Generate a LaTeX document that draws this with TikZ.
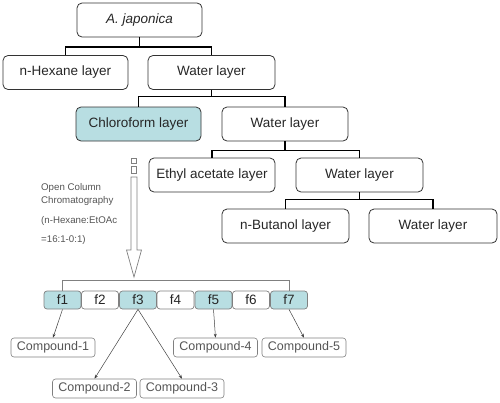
\documentclass[tikz,border=0pt]{standalone}
\usepackage{fontspec}
\setmainfont{Liberation Sans}
\usetikzlibrary{arrows.meta,calc}
\definecolor{cyanfill}{HTML}{B8DEE2}
\definecolor{boxline}{HTML}{333333}
\definecolor{greyline}{HTML}{808080}
\definecolor{greytext}{HTML}{555555}
\tikzset{
  layerbox/.style={draw=boxline, line width=0.8pt, rounded corners=5pt, minimum height=34pt, inner sep=0pt, text=black!85, font=\fontsize{13.5}{15}\selectfont},
  fracbox/.style={draw=greyline, line width=0.7pt, rounded corners=3pt, minimum width=37pt, minimum height=18pt, inner sep=0pt, text=black!85, font=\fontsize{13.5}{15}\selectfont},
  compbox/.style={draw=greyline, line width=0.6pt, rounded corners=3pt, minimum width=84pt, minimum height=19pt, inner sep=0pt, text=greytext, font=\fontsize{12.5}{14}\selectfont},
  tree/.style={line width=1.6pt, black},
  thinline/.style={line width=0.6pt, greyline},
  arr/.style={line width=0.5pt, black!75, -{Stealth[length=4pt,width=3pt]}},
  sidetext/.style={text=greytext, font=\fontsize{9.7}{11}\selectfont, anchor=west, inner sep=0pt},
}
\begin{document}
\begin{tikzpicture}[x=1pt,y=-1pt]
\useasboundingbox (0,0) rectangle (500,402);
% layer boxes
\node[layerbox, minimum width=125pt] (aj) at (139.5,20) {\itshape A. japonica};
\node[layerbox, minimum width=125pt] (hex) at (65.5,72.5) {n-Hexane layer};
\node[layerbox, minimum width=127pt] (w1) at (211.5,72.5) {Water layer};
\node[layerbox, minimum width=125pt, fill=cyanfill] (chl) at (138.5,124) {Chloroform layer};
\node[layerbox, minimum width=126pt] (w2) at (285,124) {Water layer};
\node[layerbox, minimum width=126pt] (eth) at (212,175) {Ethyl acetate layer};
\node[layerbox, minimum width=127pt] (w3) at (359.5,175) {Water layer};
\node[layerbox, minimum width=127pt] (but) at (285.5,226) {n-Butanol layer};
\node[layerbox, minimum width=128pt] (w4) at (433,226) {Water layer};
% tree connectors
\draw[tree] (aj.south) -- ++(0,10);
\draw[tree] (hex.north) -- ++(0,-8) -| (w1.north);
\draw[tree] (w1.south) -- ++(0,7);
\draw[tree] (chl.north) -- ++(0,-10) -| (w2.north);
\draw[tree] (w2.south) -- ++(0,10);
\draw[tree] (eth.north) -- ++(0,-7) -| (w3.north);
\draw[tree] (w3.south) -- ++(0,8);
\draw[tree] (but.north) -- ++(0,-9) -| (w4.north);
% side text
\node[sidetext] (t1) at (41,188) {Open Column};
\node[sidetext] (t2) at (41,201) {Chromatography};
\node[sidetext] (t3) at (41,221) {(n-Hexane:EtOAc};
\node[sidetext] (t4) at (41,240) {=16:1-0:1)};
% hollow arrow
\draw[greyline, line width=0.7pt, fill=white] (131,158) rectangle (136.5,163);
\draw[greyline, line width=0.7pt, fill=white] (131,166) rectangle (136.5,173);
\draw[greyline, line width=0.7pt, fill=white, line join=miter]
  (131,177) -- (137,177) -- (137,250) -- (141.5,250) -- (134,277) -- (126.5,250) -- (131,250) -- cycle;
% fractions
\node[fracbox, fill=cyanfill] (f1) at (62.5,300) {f1};
\node[fracbox] (f2) at (100,300) {f2};
\node[fracbox, fill=cyanfill] (f3) at (138,300) {f3};
\node[fracbox] (f4) at (175.5,300) {f4};
\node[fracbox, fill=cyanfill] (f5) at (213.5,300) {f5};
\node[fracbox] (f6) at (251,300) {f6};
\node[fracbox, fill=cyanfill] (f7) at (289,300) {f7};
\draw[thinline] (f1.north) -- ++(0,-10) -| (f7.north);
% compounds
\node[compbox] (c1) at (53,347.5) {Compound-1};
\node[compbox] (c2) at (94.5,388.5) {Compound-2};
\node[compbox] (c3) at (182,388.5) {Compound-3};
\node[compbox] (c4) at (215.5,347.5) {Compound-4};
\node[compbox] (c5) at (304,347.5) {Compound-5};
\draw[arr] (f1.south) -- (c1.north);
\draw[arr] (f3.south) -- (c2.north);
\draw[arr] (f3.south) -- (c3.north);
\draw[arr] (f5.south) -- (c4.north);
\draw[arr] (f7.south) -- (c5.north);
\end{tikzpicture}
\end{document}
